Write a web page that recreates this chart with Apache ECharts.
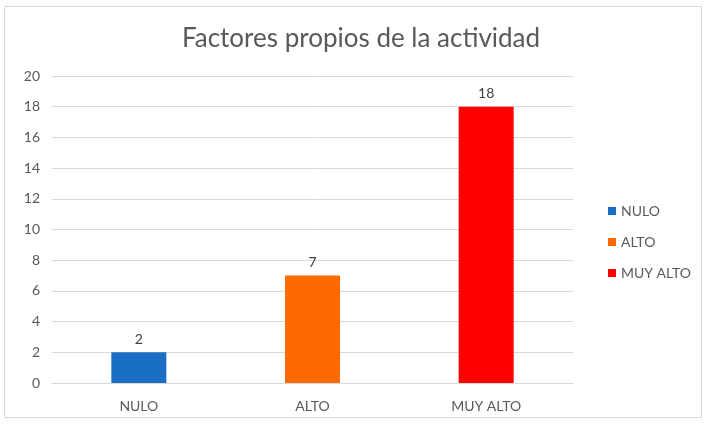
<!DOCTYPE html>
<html><head><meta charset="utf-8">
<script src="https://cdn.jsdelivr.net/npm/echarts@6/dist/echarts.min.js"></script>
<style>html,body{margin:0;padding:0;background:#fff}#c{width:706px;height:425px}</style>
</head><body><div id="c"></div>
<script>
var categories = ['NULO', 'ALTO', 'MUY ALTO'];
var values = [2, 7, 18];
var colors = ['#1a6fc4', '#ff6a00', '#ff0000'];
var yTicks = [0, 2, 4, 6, 8, 10, 12, 14, 16, 18, 20];

var font = 'Lato';
var series = categories.map(function (name, i) {
  return {
    name: name,
    type: 'bar',
    stack: 'one',
    barWidth: 55,
    itemStyle: { color: colors[i] },
    label: { show: true, position: 'top', color: '#404040', fontSize: 14, fontFamily: font, distance: 6 },
    data: categories.map(function (c, j) { return j === i ? values[i] : '-'; })
  };
});

var chart = echarts.init(document.getElementById('c'));
chart.setOption({
  animation: false,
  backgroundColor: '#fff',
  graphic: [{ type: 'rect', shape: { x: 4.5, y: 6.5, width: 697, height: 411 }, style: { fill: 'none', stroke: '#d9d9d9', lineWidth: 1 } }],
  title: { text: 'Factores propios de la actividad', left: 362, top: 21, textAlign: 'center',
    textStyle: { fontFamily: font, fontSize: 26, fontWeight: 'normal', color: '#595959' } },
  legend: {
    orient: 'vertical', left: 603, top: 199, itemGap: 17, itemWidth: 8, itemHeight: 8, icon: 'rect',
    data: categories,
    textStyle: { fontFamily: font, fontSize: 14, color: '#595959' }
  },
  grid: { left: 52, right: 133, top: 76, bottom: 42 },
  xAxis: { type: 'category', data: categories,
    axisLine: { show: true, lineStyle: { color: '#d9d9d9' } }, axisTick: { show: false },
    axisLabel: { fontFamily: font, fontSize: 14, color: '#595959', margin: 16 } },
  yAxis: { type: 'value', min: yTicks[0], max: yTicks[yTicks.length - 1], interval: 2,
    axisLine: { show: false }, axisTick: { show: false },
    splitLine: { lineStyle: { color: '#d9d9d9' } },
    axisLabel: { fontFamily: font, fontSize: 14, color: '#595959', margin: 12, align: 'right' } },
  series: series
});
chart.setOption({ title: { left: 356 } });
</script></body></html>
